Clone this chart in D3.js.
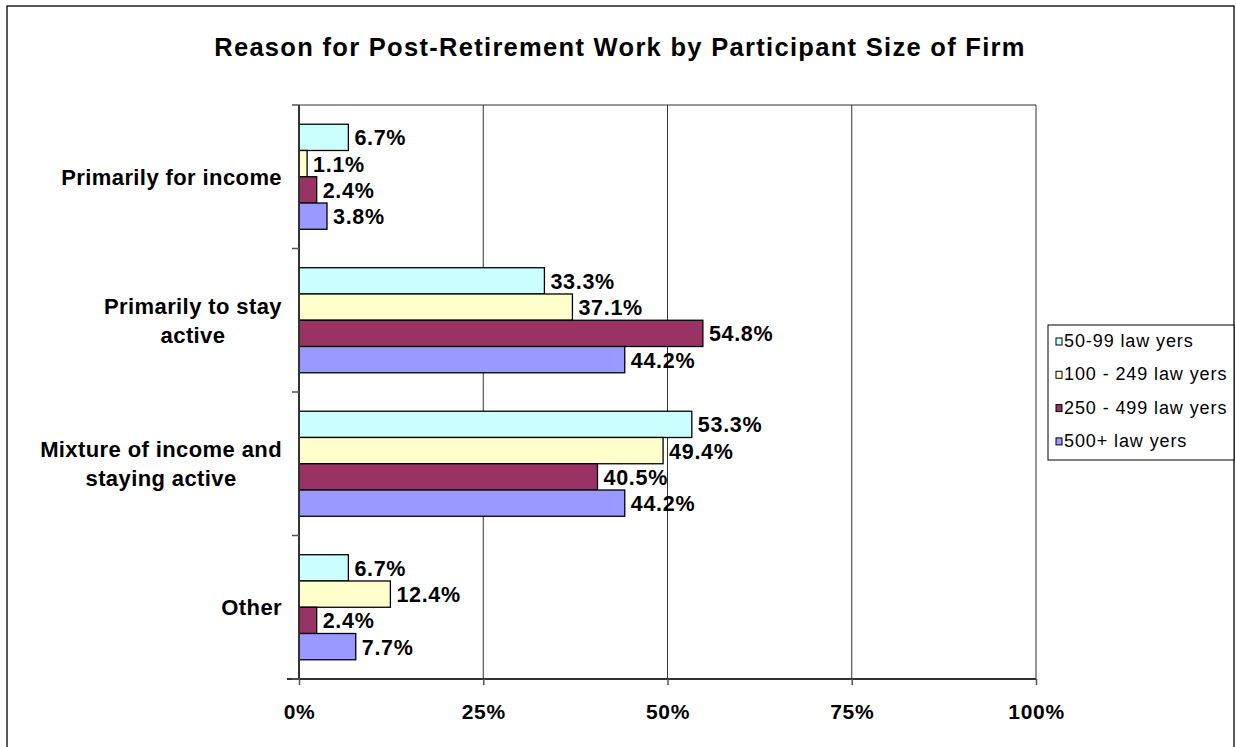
<!DOCTYPE html>
<html>
<head>
<meta charset="utf-8">
<script src="https://cdn.jsdelivr.net/npm/d3@7"></script>
<style>
  html, body { margin: 0; padding: 0; background: #fff; }
  svg { display: block; font-family: Arial, "Liberation Sans", sans-serif; }
</style>
</head>
<body>
<svg id="chart" width="1236" height="747"></svg>
<script>
const title = "Reason for Post-Retirement Work by Participant Size of Firm";
const categories = ["Primarily for income", "Primarily to stay active", "Mixture of income and staying active", "Other"];
const categoryLines = [["Primarily for income"], ["Primarily to stay", "active"], ["Mixture of income and", "staying active"], ["Other"]];
const seriesNames = ["50-99 law yers", "100 - 249 law yers", "250 - 499 law yers", "500+ law yers"];
const seriesColors = ["#CCFFFF", "#FFFFCC", "#993366", "#9999FF"];
const s50_99   = [6.7, 33.3, 53.3, 6.7];
const s100_249 = [1.1, 37.1, 49.4, 12.4];
const s250_499 = [2.4, 54.8, 40.5, 2.4];
const s500     = [3.8, 44.2, 44.2, 7.7];
const series = [s50_99, s100_249, s250_499, s500];
const xTicks = [0, 25, 50, 75, 100];

const svg = d3.select("#chart");

// outer chart border
svg.append("rect").attr("x", 7).attr("y", 6).attr("width", 1227).attr("height", 760)
  .attr("fill", "#fff").attr("stroke", "#000").attr("stroke-width", 1.3);

const plot = {left: 299, right: 1036, top: 105, bottom: 679};

const x = d3.scaleLinear().domain([0, 100]).range([plot.left, plot.right]);
const y0 = d3.scaleBand().domain(categories).range([plot.top, plot.bottom]).paddingInner(0.268).paddingOuter(0.134);
const y1 = d3.scaleBand().domain(d3.range(series.length)).range([0, y0.bandwidth()]);

// title
svg.append("text").attr("x", 620).attr("y", 56).attr("text-anchor", "middle")
  .attr("font-weight", "bold").attr("font-size", 25.5).attr("letter-spacing", 1.3).attr("fill", "#000").text(title);

// gridlines
const g = svg.append("g");
g.selectAll("line.grid").data(xTicks.slice(1)).enter().append("line")
  .attr("x1", d => x(d)).attr("x2", d => x(d)).attr("y1", plot.top).attr("y2", plot.bottom)
  .attr("stroke", "#333").attr("stroke-width", 1);
// top border of plot
g.append("line").attr("x1", plot.left).attr("x2", plot.right).attr("y1", plot.top).attr("y2", plot.top)
  .attr("stroke", "#333").attr("stroke-width", 1.2);

// bars
categories.forEach((c, ci) => {
  series.forEach((s, si) => {
    const by = y0(c) + y1(si);
    g.append("rect").attr("x", x(0)).attr("y", by).attr("width", x(s[ci]) - x(0)).attr("height", y1.bandwidth())
      .attr("fill", seriesColors[si]).attr("stroke", "#000").attr("stroke-width", 1.3);
    g.append("text").attr("x", x(s[ci]) + 6).attr("y", by + y1.bandwidth() / 2 + 8)
      .attr("font-weight", "bold").attr("font-size", 21.5).attr("letter-spacing", 0.7).attr("fill", "#000")
      .text(s[ci].toFixed(1) + "%");
  });
});

// x axis
const xAxis = d3.axisBottom(x).tickValues(xTicks).tickFormat(d => d + "%").tickSize(6).tickPadding(19);
const ax = svg.append("g").attr("transform", `translate(0,${plot.bottom})`).call(xAxis);
ax.select(".domain").attr("stroke", "#333").attr("stroke-width", 2).attr("d", `M${plot.left - 12},0H${plot.right}`);
ax.selectAll(".tick line").attr("stroke", "#555").attr("stroke-width", 1.5);
ax.selectAll(".tick text").attr("font-weight", "bold").attr("font-size", 21).attr("letter-spacing", 0.7)
  .attr("fill", "#000").attr("font-family", "Arial, 'Liberation Sans', sans-serif").attr("dy", "0.71em");

// y axis
svg.append("line").attr("x1", plot.left).attr("x2", plot.left).attr("y1", plot.top).attr("y2", plot.bottom)
  .attr("stroke", "#333").attr("stroke-width", 2);
const boundaries = categories.map(c => y0(c) - y0.step() * y0.paddingInner() / 2).concat([plot.bottom]);
svg.selectAll("line.ytick").data(boundaries).enter().append("line")
  .attr("x1", plot.left - 7).attr("x2", plot.left).attr("y1", d => d).attr("y2", d => d)
  .attr("stroke", "#555").attr("stroke-width", 1.5);

// category labels
const catG = svg.append("g");
categories.forEach((c, ci) => {
  const lines = categoryLines[ci];
  const cy = y0(c) + y0.bandwidth() / 2;
  const lh = 29;
  const grp = catG.append("g");
  const texts = lines.map((l, li) => grp.append("text")
    .attr("y", cy + 8 + (li - (lines.length - 1) / 2) * lh)
    .attr("font-weight", "bold").attr("font-size", 22).attr("letter-spacing", 0.4)
    .attr("text-anchor", "middle").attr("fill", "#000").text(l));
  const maxW = d3.max(texts, t => t.node().getComputedTextLength());
  texts.forEach(t => t.attr("x", 282 - maxW / 2));
});

// legend
const lg = svg.append("g");
lg.append("rect").attr("x", 1048).attr("y", 325).attr("width", 186).attr("height", 135)
  .attr("fill", "#fff").attr("stroke", "#000").attr("stroke-width", 1);
seriesNames.forEach((n, i) => {
  const yy = 347 + i * 33.3;
  lg.append("rect").attr("x", 1056).attr("y", yy - 9).attr("width", 6).attr("height", 7)
    .attr("fill", seriesColors[i]).attr("stroke", "#000").attr("stroke-width", 1);
  lg.append("text").attr("x", 1064).attr("y", yy).attr("font-size", 18).attr("letter-spacing", 0.9)
    .attr("fill", "#000").text(n);
});
</script>
</body>
</html>
